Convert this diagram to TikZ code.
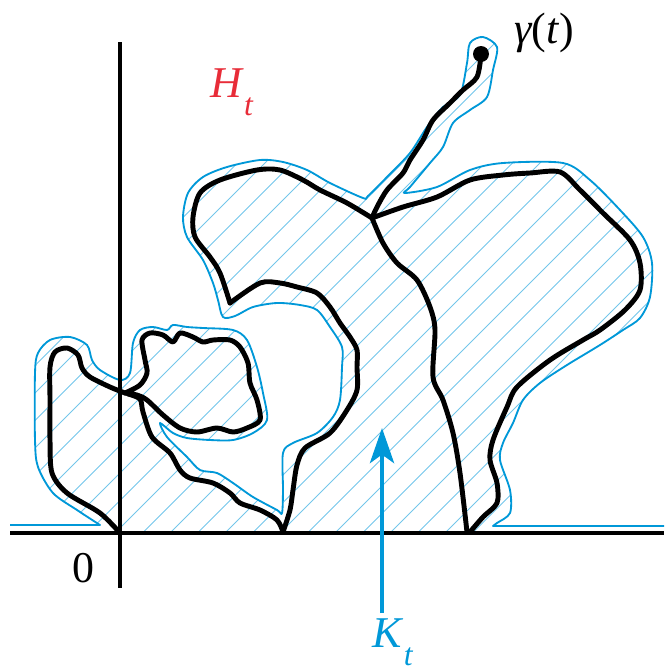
\documentclass[tikz,border=0pt]{standalone}
\usepackage{fontspec}
\setmainfont{Liberation Serif}
\usepackage{tikz}
\usetikzlibrary{arrows.meta,calc}
\definecolor{hullblue}{RGB}{0,152,216}
\definecolor{htred}{RGB}{232,44,56}

% points of the blue outline round the hull
\newcommand{\hullpts}{(100,525) (77,510) (53,493) (38,467) (35,440) (35,373) (38,353) (50,340) (70,337) (87,345) (92,360) (100,370) (120,380) (130,373) (133,343) (140,330) (153,327) (167,330) (173,325) (187,327) (203,328) (233,330) (247,340) (257,367) (263,393) (267,420) (253,433) (233,440) (210,440) (187,438) (173,433) (160,423) (167,437) (187,457) (200,470) (217,473) (233,483) (253,497) (277,510) (282,513) (283,490) (283,453) (293,443) (317,433) (333,417) (340,400) (342,367) (342,347) (330,327) (317,310) (300,305) (277,303) (253,307) (235,316) (223,317) (218,300) (213,283) (203,260) (187,237) (183,217) (188,193) (203,177) (227,167) (260,160) (283,162) (307,170) (330,183) (363,198) (368,196) (387,177) (410,153) (427,127) (443,107) (460,95) (467,63) (470,43) (483,37) (497,47) (493,70) (487,97) (470,110) (453,123) (443,147) (430,163) (410,187) (405,193) (437,187) (470,170) (503,163) (563,163) (590,180) (620,210) (643,237) (652,263) (650,297) (640,318) (623,330) (600,345) (567,365) (540,383) (523,400) (513,423) (503,443) (500,460) (510,490) (510,513) (497,523) (493,526)}
% lowered subscript t
\newcommand{\subt}{\raisebox{-0.42em}{\fontsize{18}{18}\selectfont\textit{t}}}

\begin{document}
\begin{tikzpicture}[
    x=0.02cm, y=-0.02cm,
    curve/.style={line width=2.8pt, line join=round, line cap=round},
    axis/.style={line width=2.2pt},
    outline/.style={draw=hullblue, line width=1.05pt, line join=round},
    hatch/.style={draw=hullblue!55, line width=0.55pt},
    mathlabel/.style={font=\fontsize{25}{28}\selectfont},
    dot/.style={circle, fill=black, inner sep=0pt, minimum size=0.32cm},
    karrow/.style={-{Stealth[length=0.7cm, width=0.48cm, inset=0.17cm]}, draw=hullblue, line width=2.8pt}
]
    \useasboundingbox (0,0) rectangle (664,667);

    % hatching inside the hull
    \begin{scope}
        \edef\clipcmd{\noexpand\clip (100,533) -- plot[smooth] coordinates {\hullpts} -- (493,533) -- cycle;}
        \clipcmd
        \foreach \c in {373,400.5,...,1060}
            \draw[hatch] (\c,0) -- ({\c-700},700);
    \end{scope}

    % blue outline with the real line
    \edef\outlinecmd{\noexpand\draw[outline] (10,525) -- plot[smooth] coordinates {\hullpts} -- (664,526);}
    \outlinecmd

    % axes
    \draw[axis] (10,533) -- (664,533);
    \draw[axis] (120,42) -- (120,588);

    % the curve
    \draw[curve] plot[smooth] coordinates {(120,533) (100,513) (67,493) (52,473) (50,440) (50,400) (50,367) (55,352) (67,348) (78,355) (82,368) (90,377) (110,387) (125,393)};
    \draw[curve] plot[smooth] coordinates {(125,393) (137,395) (147,400) (163,415) (180,428) (197,432) (217,428) (233,432) (247,428) (260,420) (257,400) (250,383) (248,363) (240,347) (230,340) (213,340) (203,342) (193,337) (180,333) (173,342) (163,335) (150,333) (142,340) (145,360) (147,373) (140,385) (125,393)};
    \draw[curve] plot[smooth] coordinates {(128,394) (140,399) (143,412) (152,437) (170,453) (180,470) (190,478) (213,483) (230,493) (240,503) (260,510) (277,520) (283,532)};
    \draw[curve] plot[smooth] coordinates {(283,532) (290,510) (293,490) (297,465) (305,448) (330,433) (347,410) (357,390) (357,367) (357,350) (350,337) (340,323) (330,307) (317,293) (297,287) (280,283) (260,283) (230,303)};
    \draw[curve] plot[smooth] coordinates {(230,303) (220,273) (210,257) (195,237) (193,217) (200,193) (220,180) (257,170) (280,170) (303,180) (320,190) (347,203) (372,218)};
    \draw[curve] plot[smooth] coordinates {(372,218) (377,207) (387,190) (403,173) (410,160) (423,140) (433,120) (450,103) (463,90) (477,77) (481,55)};
    \draw[curve] plot[smooth] coordinates {(372,218) (403,207) (437,197) (470,180) (503,175) (530,173) (560,172) (580,190) (603,213) (630,240) (640,263) (640,290) (625,310) (600,330) (583,340) (550,360) (517,387) (507,407) (493,440) (490,460) (497,483) (497,503) (483,517) (470,532)};
    \draw[curve] plot[smooth] coordinates {(372,218) (383,243) (397,263) (417,280) (430,307) (435,330) (433,377) (443,400) (453,433) (460,473) (467,532)};

    % labels
    \node[dot] (gammadot) at (481,54) {};
    \node[mathlabel, anchor=west] (gammalabel) at (508,33) {{\itshape γ}(\textit{t})};
    \node[mathlabel, htred] (htlabel) at (232,92) {\textit{H}\subt};
    \node[mathlabel] (origin) at (83,568) {0};
    \node[mathlabel, hullblue] (ktlabel) at (393,642) {\textit{K}\subt};

    \coordinate (arrowfoot) at (382,613);
    \coordinate (arrowtip) at (382,428);
    \draw[karrow] (arrowfoot) -- (arrowtip);
\end{tikzpicture}
\end{document}
